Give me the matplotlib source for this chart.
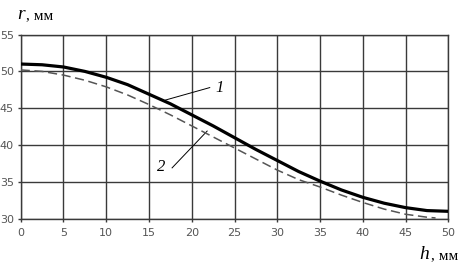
import numpy as np
import matplotlib.pyplot as plt

# curve 1 (solid) and curve 2 (dashed)
h1 = [0, 2.5, 5, 7.5, 10, 12.5, 15, 17.5, 20, 22.5, 25, 27.5, 30, 32.5, 35, 37.5, 40, 42.5, 45, 47.5, 50]
r1 = [51.0, 50.9, 50.6, 50.0, 49.2, 48.2, 46.9, 45.6, 44.1, 42.6, 41.0, 39.4, 37.9, 36.4, 35.1, 33.9, 32.9, 32.1, 31.5, 31.1, 31.0]

h2 = [0, 2.5, 5, 7.5, 10, 12.5, 15, 17.5, 20, 22.5, 25, 27.5, 30, 32.5, 35, 37.5, 40, 42.5, 45, 47.5, 48.5]
r2 = [50.2, 50.0, 49.5, 48.8, 47.9, 46.8, 45.5, 44.1, 42.6, 41.1, 39.6, 38.1, 36.6, 35.3, 34.3, 33.2, 32.2, 31.3, 30.6, 30.2, 30.1]

xticks = np.arange(0, 51, 5)
yticks = np.arange(30, 56, 5)

fig = plt.figure(figsize=(4.70, 2.68), dpi=100)
ax = fig.add_axes([0.044, 0.184, 0.910, 0.687])

ax.plot(h1, r1, color='black', lw=2.3, zorder=3)
ax.plot(h2, r2, color='#555555', lw=1.1, ls=(0, (6, 3)), zorder=3)

ax.set_xlim(0, 50)
ax.set_ylim(30, 55)
ax.set_xticks(xticks)
ax.set_yticks(yticks)
ax.grid(True, color='#3a3a3a', lw=1.0)
for s in ax.spines.values():
    s.set_color('#3a3a3a')
    s.set_linewidth(1.0)
ax.tick_params(colors='#3a3a3a', labelcolor='#555555', labelsize=8, length=2, width=1, pad=3)
ax.tick_params(axis='x', pad=5)

# leader lines and labels
ax.plot([16.9, 22.1], [46.1, 47.8], color='black', lw=0.7)
ax.text(23.2, 47.7, '1', fontsize=12, family='Liberation Serif', style='italic', ha='center', va='center')
ax.plot([17.7, 21.8], [36.9, 41.9], color='black', lw=0.7)
ax.text(16.4, 37.0, '2', fontsize=12, family='Liberation Serif', style='italic', ha='center', va='center')

# axis names
fig.text(0.036, 0.945, 'r', fontsize=14, family='Liberation Serif', style='italic', va='center', ha='left')
fig.text(0.056, 0.94, ', мм', fontsize=11, family='Liberation Serif', va='center', ha='left')
fig.text(0.893, 0.05, 'h', fontsize=14, family='Liberation Serif', style='italic', va='center', ha='left')
fig.text(0.916, 0.045, ', мм', fontsize=11, family='Liberation Serif', va='center', ha='left')

fig.savefig('out.png', dpi=100)
